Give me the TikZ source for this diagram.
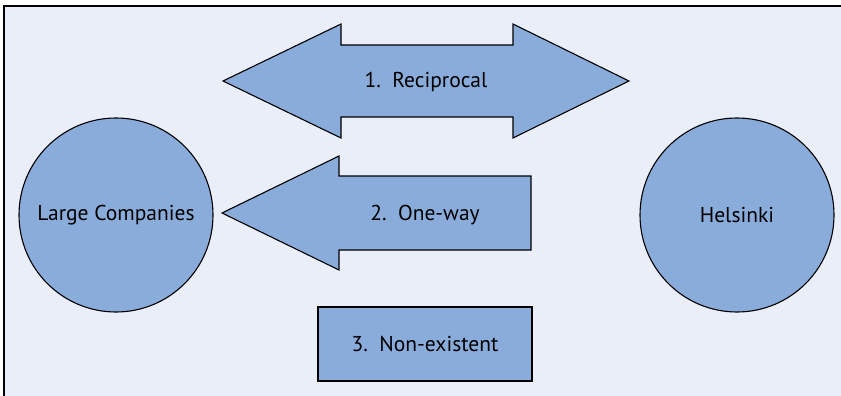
\documentclass[tikz,border=0pt]{standalone}
\usepackage{fontspec}
\setmainfont{PT Sans}
\definecolor{panel}{RGB}{233,238,248}
\definecolor{shapefill}{RGB}{138,172,218}
\newcommand{\labelfont}{\fontsize{21.5}{24}\selectfont}
\begin{document}
\begin{tikzpicture}[x=1pt,y=-1pt,
  shapeline/.style={draw=black,line width=1.1pt,fill=shapefill,line join=miter},
  lbl/.style={font=\labelfont,inner sep=0pt},
  party/.style={circle,shapeline,minimum size=194pt,inner sep=0pt,font=\labelfont}]
  \useasboundingbox (0,0) rectangle (841,396);
  % panel background with frame on top and left
  \fill[panel] (4,6) rectangle (841,396);
  \draw[line width=1.8pt] (4,396) -- (4,6) -- (841,6);
  % the two parties
  \node[party] (lc) at (116,215) {Large Companies};
  \node[party] (hel) at (737,215) {Helsinki};
  % 1. reciprocal: double-headed arrow
  \draw[shapeline] (223,81) -- (341,24) -- (341,45) -- (513,45) -- (513,24)
    -- (629,81) -- (513,138) -- (513,117) -- (341,117) -- (341,138) -- cycle;
  \node[lbl] (rec) at (426,82) {1.\ \ Reciprocal};
  % 2. one-way: single arrow pointing left
  \draw[shapeline] (222,213) -- (339,156) -- (339,176) -- (531,176)
    -- (531,250) -- (339,250) -- (339,270) -- cycle;
  \node[lbl] (one) at (425,215) {2.\ \ One-way};
  % 3. non-existent: plain box
  \node[shapeline,minimum width=214pt,minimum height=74pt,inner sep=0pt,
    font=\labelfont] (non) at (425,344) {3.\ \ Non-existent};
\end{tikzpicture}
\end{document}
